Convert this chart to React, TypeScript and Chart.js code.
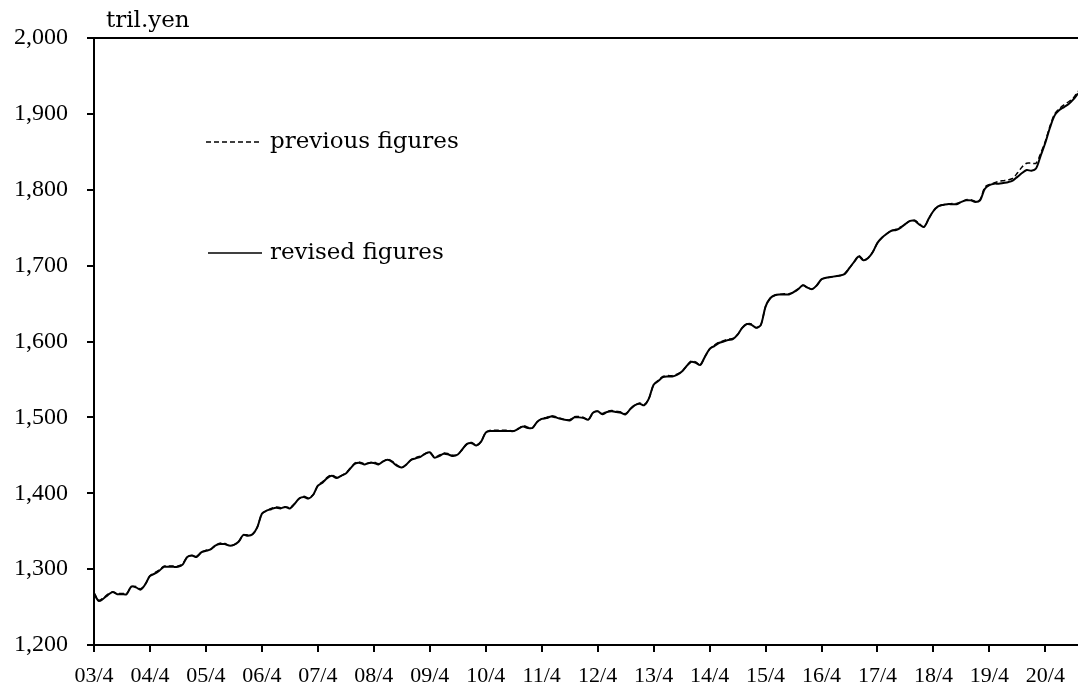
import React, { useEffect, useRef } from "react";
import { Chart, registerables } from "chart.js";

Chart.register(...registerables);

const xTickLabels = ["03/4","04/4","05/4","06/4","07/4","08/4","09/4","10/4","11/4","12/4","13/4","14/4","15/4","16/4","17/4","18/4","19/4","20/4"];
const monthsPerTick = 12;

const yMin = 1200;
const yMax = 2000;
const yStep = 100;

const unitLabel = "tril.yen";
const previousLabel = "previous figures";
const revisedLabel = "revised figures";

// Monthly values, 2003/4 .. 2020/11
const revised = [
  1268,1258,1261,1266,1270,1267,1267,1267,1277,1276,1273,1280,
  1291,1294,1298,1303,1303,1303,1303,1306,1316,1318,1316,1322,
  1324,1326,1331,1333,1333,1331,1332,1336,1345,1344,1346,1355,
  1373,1377,1379,1381,1380,1382,1380,1386,1393,1395,1393,1398,
  1410,1414,1420,1423,1420,1423,1426,1433,1439,1440,1438,1440,
  1440,1438,1442,1444,1441,1436,1434,1438,1444,1446,1448,1452,
  1454,1447,1449,1452,1451,1449,1451,1458,1465,1466,1463,1468,
  1480,1482,1482,1482,1482,1482,1482,1485,1488,1486,1486,1494,
  1498,1499,1501,1500,1498,1497,1496,1500,1500,1499,1497,1506,
  1508,1504,1507,1508,1507,1506,1504,1511,1516,1518,1516,1525,
  1543,1548,1553,1554,1554,1556,1560,1567,1573,1572,1569,1580,
  1590,1594,1598,1600,1602,1603,1609,1618,1623,1622,1618,1622,
  1646,1657,1661,1662,1662,1662,1665,1669,1674,1671,1669,1674,
  1682,1684,1685,1686,1687,1689,1697,1705,1712,1707,1710,1718,
  1730,1737,1742,1746,1747,1750,1755,1759,1759,1754,1751,1762,
  1772,1778,1780,1781,1781,1781,1784,1786,1786,1784,1786,1801,
  1806,1808,1808,1809,1810,1812,1817,1822,1826,1825,1828,1845,
  1862,1882,1898,1905,1909,1913,1919,1927
];

const previous = [
  1269,1259,1262,1267,1270,1268,1268,1268,1277,1277,1274,1280,
  1291,1295,1299,1304,1304,1304,1304,1307,1316,1318,1317,1322,
  1325,1326,1331,1334,1334,1331,1332,1336,1345,1345,1346,1355,
  1373,1377,1380,1382,1381,1382,1381,1386,1393,1396,1394,1398,
  1410,1415,1421,1424,1421,1423,1427,1433,1440,1441,1439,1440,
  1441,1439,1442,1445,1442,1437,1434,1438,1444,1447,1449,1452,
  1454,1448,1450,1453,1452,1450,1451,1458,1465,1467,1463,1468,
  1480,1483,1483,1483,1483,1483,1482,1485,1489,1487,1486,1494,
  1498,1500,1502,1501,1499,1497,1497,1501,1501,1500,1497,1506,
  1508,1505,1508,1509,1508,1507,1505,1511,1516,1519,1517,1525,
  1543,1549,1554,1555,1555,1557,1560,1567,1574,1573,1569,1580,
  1590,1595,1599,1601,1603,1604,1609,1618,1623,1623,1618,1622,
  1646,1657,1661,1662,1663,1663,1665,1669,1674,1671,1669,1674,
  1682,1684,1685,1686,1687,1690,1697,1705,1713,1708,1710,1718,
  1730,1737,1742,1746,1748,1751,1755,1759,1760,1755,1751,1762,
  1772,1778,1780,1781,1782,1782,1784,1787,1787,1785,1787,1803,
  1807,1809,1811,1812,1813,1815,1822,1830,1835,1835,1835,1848,
  1864,1884,1900,1907,1912,1916,1921,1930
];

const NUM_FONT = "'Liberation Serif', 'Times New Roman', serif";
const TEXT_FONT = "'DejaVu Serif', serif";

export default function App() {
  const ref = useRef<HTMLCanvasElement | null>(null);

  useEffect(() => {
    document.body.style.margin = "0";
    const canvas = ref.current;
    if (!canvas) return;

    const revisedPts = revised.map((v, i) => ({ x: i, y: v }));
    const previousPts = previous.map((v, i) => ({ x: i, y: v }));

    const overlay = {
      id: "overlay",
      afterDraw(chart: any) {
        const { ctx, chartArea } = chart;
        const { left, right, top } = chartArea;
        ctx.save();
        // top frame line
        ctx.strokeStyle = "#000";
        ctx.lineWidth = 2;
        ctx.setLineDash([]);
        ctx.beginPath();
        ctx.moveTo(left, top);
        ctx.lineTo(right, top);
        ctx.stroke();

        // unit label
        ctx.fillStyle = "#000";
        ctx.font = `23px ${TEXT_FONT}`;
        ctx.textAlign = "left";
        ctx.textBaseline = "alphabetic";
        ctx.fillText(unitLabel, left + 12, top - 11);

        // legend
        const lx0 = left + 112;
        const lx1 = left + 168;
        const tx = left + 176;
        const y1 = top + 104;
        const y2 = top + 215;
        ctx.textBaseline = "middle";
        ctx.lineWidth = 1.5;
        ctx.setLineDash([5, 3]);
        ctx.beginPath();
        ctx.moveTo(lx0, y1);
        ctx.lineTo(lx1, y1);
        ctx.stroke();
        ctx.setLineDash([]);
        ctx.fillText(previousLabel, tx, y1);
        ctx.lineWidth = 1.5;
        ctx.beginPath();
        ctx.moveTo(lx0 + 2, y2);
        ctx.lineTo(lx1, y2);
        ctx.stroke();
        ctx.fillText(revisedLabel, tx, y2);
        ctx.restore();
      },
    };

    const chart = new Chart(canvas, {
      type: "line",
      data: {
        datasets: [
          {
            label: previousLabel,
            data: previousPts,
            borderColor: "#000",
            borderWidth: 1.5,
            borderDash: [5, 3],
            pointRadius: 0,
            tension: 0.3,
            fill: false,
          },
          {
            label: revisedLabel,
            data: revisedPts,
            borderColor: "#000",
            borderWidth: 2,
            pointRadius: 0,
            tension: 0.3,
            fill: false,
          },
        ],
      },
      options: {
        responsive: false,
        animation: false,
        layout: { padding: { top: 38, right: 0, left: 0, bottom: 0 } },
        plugins: {
          legend: { display: false },
          tooltip: { enabled: false },
          title: { display: false },
        },
        scales: {
          x: {
            type: "linear",
            min: 0,
            max: revised.length - 1,
            afterBuildTicks(scale: any) {
              scale.ticks = xTickLabels.map((_, k) => ({ value: k * monthsPerTick }));
            },
            afterFit(scale: any) {
              scale.height = 43;
            },
            ticks: {
              autoSkip: false,
              maxRotation: 0,
              minRotation: 0,
              padding: 11,
              color: "#000",
              font: { family: NUM_FONT, size: 22 },
              callback: (value: any) => xTickLabels[Math.round(Number(value) / monthsPerTick)] ?? "",
            },
            grid: {
              display: true,
              drawOnChartArea: false,
              drawTicks: true,
              tickLength: 7,
              color: "#000",
              lineWidth: 2,
            },
            border: { display: true, color: "#000", width: 2 },
          },
          y: {
            min: yMin,
            max: yMax,
            afterFit(scale: any) {
              scale.width = 94;
            },
            ticks: {
              stepSize: yStep,
              padding: 19,
              color: "#000",
              font: { family: NUM_FONT, size: 24 },
              callback: (value: any) => Number(value).toLocaleString("en-US"),
            },
            grid: {
              display: true,
              drawOnChartArea: false,
              drawTicks: true,
              tickLength: 7,
              color: "#000",
              lineWidth: 2,
            },
            border: { display: true, color: "#000", width: 2 },
          },
        },
      },
      plugins: [overlay],
    });

    return () => {
      chart.destroy();
    };
  }, []);

  return (
    <div style={{ width: 1078, height: 688, background: "#fff" }}>
      <canvas ref={ref} width={1078} height={688} style={{ display: "block" }} />
    </div>
  );
}
